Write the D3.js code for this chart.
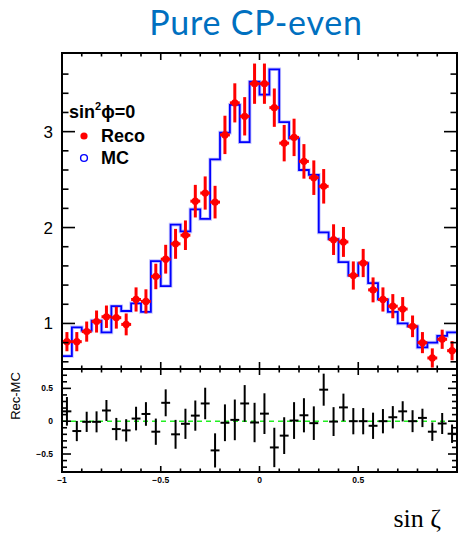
<!DOCTYPE html>
<html>
<head>
<meta charset="utf-8">
<script src="https://cdn.jsdelivr.net/npm/d3@7"></script>
<style>
html,body{margin:0;padding:0;background:#fff;}
svg{display:block;}
</style>
</head>
<body>
<svg id="chart" width="458" height="533"></svg>
<script>
// ---- data ----
const xMin = -1, xMax = 1, nBins = 40;
const recoValues = [0.81,0.81,0.915,1.02,1.07,1.06,0.99,1.25,1.23,1.49,
  1.67,1.83,1.92,2.275,2.36,2.265,2.966,3.30,3.16,3.50,
  3.50,3.25,2.88,2.94,2.69,2.52,2.43,1.874,1.85,1.50,
  1.63,1.35,1.25,1.18,1.15,0.97,0.80,0.64,0.835,0.716];
const recoErrors = [0.10,0.10,0.105,0.115,0.117,0.114,0.114,0.126,0.126,0.133,
  0.15,0.156,0.154,0.17,0.173,0.17,0.20,0.204,0.20,0.21,
  0.21,0.20,0.19,0.195,0.18,0.18,0.18,0.16,0.156,0.147,
  0.147,0.13,0.126,0.126,0.125,0.113,0.11,0.10,0.10,0.10];
const mcValues = [0.66,0.96,0.925,1.03,0.907,1.18,1.13,1.21,1.12,1.65,
  1.39,2.03,1.96,2.19,2.09,2.71,2.99,3.28,2.89,3.52,
  3.385,3.65,3.10,2.93,2.60,2.55,1.95,1.88,1.64,1.50,
  1.63,1.42,1.25,1.12,1.00,0.97,0.75,0.80,0.87,0.907];
const residErrors = [0.218,0.154,0.154,0.16,0.16,0.17,0.17,0.18,0.18,0.2,
  0.205,0.22,0.23,0.23,0.24,0.26,0.28,0.31,0.28,0.30,
  0.31,0.30,0.28,0.28,0.26,0.256,0.244,0.22,0.21,0.2,
  0.2,0.2,0.185,0.17,0.154,0.167,0.14,0.14,0.16,0.14];
const mainYTicks = [1,2,3];
const residYTickLabels = [0.5,0,-0.5];
const xTickLabels = [-1,-0.5,0,0.5];
const title = "Pure CP-even";
const legendTitle = "sin";
const legendItems = ["Reco","MC"];
const xTitle = "sin \u03B6";
const residTitle = "Rec-MC";

// ---- layout ----
const svg = d3.select("#chart");
const L = 62, R = 457, mainTop = 53, mainBot = 369, resTop = 369, resBot = 472;
const binW = (xMax - xMin) / nBins;
const bins = d3.range(nBins).map(i => {
  const lo = xMin + i * binW;
  return {i, lo, hi: lo + binW, c: lo + binW / 2,
    reco: recoValues[i], err: recoErrors[i], mc: mcValues[i],
    res: recoValues[i] - mcValues[i], rerr: residErrors[i]};
});

const x = d3.scaleLinear().domain([xMin, xMax]).range([L, R]);
const y = d3.scaleLinear().domain([0.525, 3.82]).range([mainBot, mainTop]);
const yr = d3.scaleLinear().domain([-0.774, 0.795]).range([resBot, resTop]);

// title
svg.append("text").attr("x", 256).attr("y", 35).attr("text-anchor", "middle")
  .attr("font-family", "Lato, sans-serif").attr("font-size", 34)
  .attr("letter-spacing", 0.8)
  .attr("fill", "#0070c0").text(title);

// ---- main panel ----
const stepPts = [];
bins.forEach(b => { stepPts.push([x(b.lo), y(b.mc)]); stepPts.push([x(b.hi), y(b.mc)]); });
const line = d3.line();
svg.append("clipPath").attr("id", "cm").append("rect")
  .attr("x", L).attr("y", mainTop).attr("width", R - L).attr("height", mainBot - mainTop);
const gMain = svg.append("g").attr("clip-path", "url(#cm)");
gMain.append("path").attr("d", line(stepPts)).attr("fill", "none")
  .attr("stroke", "#a8a8ff").attr("stroke-width", 3.6).attr("stroke-opacity", 0.7);
gMain.append("path").attr("d", line(stepPts)).attr("fill", "none")
  .attr("stroke", "#0000ff").attr("stroke-width", 1.8);

// Reco points
const gReco = gMain.append("g").attr("stroke", "#ff0000").attr("stroke-width", 3);
gReco.selectAll("line.v").data(bins).join("line")
  .attr("x1", d => x(d.c)).attr("x2", d => x(d.c))
  .attr("y1", d => y(d.reco - d.err)).attr("y2", d => y(d.reco + d.err));
gReco.selectAll("line.h").data(bins).join("line")
  .attr("x1", d => x(d.lo)).attr("x2", d => x(d.hi))
  .attr("y1", d => y(d.reco)).attr("y2", d => y(d.reco));
gMain.selectAll("circle.reco").data(bins).join("circle")
  .attr("cx", d => x(d.c)).attr("cy", d => y(d.reco)).attr("r", 3.6).attr("fill", "#ff0000");

// frame main
svg.append("rect").attr("x", L).attr("y", mainTop).attr("width", R - L).attr("height", mainBot - mainTop)
  .attr("fill", "none").attr("stroke", "#000").attr("stroke-width", 2);

function xTicks(yTopLine, yBotLine, majLen, minLen) {
  const g = svg.append("g").attr("stroke", "#000").attr("stroke-width", 1.6);
  const ticks = d3.range(-10, 11).map(k => k / 10);
  ticks.forEach(t => {
    const major = Math.abs(Math.round(t * 2) - t * 2) < 1e-6;
    const len = major ? majLen : minLen;
    g.append("line").attr("x1", x(t)).attr("x2", x(t)).attr("y1", yTopLine).attr("y2", yTopLine + len);
    g.append("line").attr("x1", x(t)).attr("x2", x(t)).attr("y1", yBotLine).attr("y2", yBotLine - len);
  });
}
xTicks(mainTop, mainBot, 7, 3.5);

// main y ticks
(function(){
  const g = svg.append("g").attr("stroke", "#000").attr("stroke-width", 1.6);
  const ticks = d3.range(3, 19).map(k => k / 5);
  ticks.forEach(t => {
    const major = Math.abs(t - Math.round(t)) < 1e-6;
    const len = major ? 13 : 6.5;
    g.append("line").attr("x1", L).attr("x2", L + len).attr("y1", y(t)).attr("y2", y(t));
    g.append("line").attr("x1", R).attr("x2", R - len).attr("y1", y(t)).attr("y2", y(t));
  });
})();
svg.selectAll("text.ym").data(mainYTicks).join("text")
  .attr("x", 53).attr("y", d => y(d) + 6).attr("text-anchor", "end")
  .attr("font-family", "Liberation Sans, Arial, sans-serif").attr("font-size", 17)
  .text(d => d);

// legend
const lg = svg.append("g").attr("font-family", "Liberation Sans, Arial, sans-serif")
  .attr("font-weight", "bold");
const lt = lg.append("text").attr("x", 69).attr("y", 118).attr("font-size", 18);
lt.append("tspan").text(legendTitle);
lt.append("tspan").attr("font-size", 11).attr("dy", -8).text("2");
lt.append("tspan").attr("dy", 8).text("\u03D5=0");
lg.append("circle").attr("cx", 84).attr("cy", 136).attr("r", 3.6).attr("fill", "#ff0000");
lg.append("text").attr("x", 101).attr("y", 141.5).attr("font-size", 18).text(legendItems[0]);
lg.append("circle").attr("cx", 84).attr("cy", 158).attr("r", 3.4).attr("fill", "none")
  .attr("stroke", "#0000ff").attr("stroke-width", 1.4);
lg.append("text").attr("x", 101).attr("y", 163.5).attr("font-size", 18).text(legendItems[1]);

// ---- residual panel ----
svg.append("line").attr("x1", L).attr("x2", R).attr("y1", yr(0)).attr("y2", yr(0))
  .attr("stroke", "#22ee22").attr("stroke-width", 1.4).attr("stroke-dasharray", "5,4");
const gRes = svg.append("g").attr("stroke", "#000").attr("stroke-width", 2);
gRes.selectAll("line.v").data(bins).join("line")
  .attr("x1", d => x(d.c)).attr("x2", d => x(d.c))
  .attr("y1", d => yr(d.res - d.rerr)).attr("y2", d => yr(d.res + d.rerr));
gRes.selectAll("line.h").data(bins).join("line")
  .attr("x1", d => x(d.lo) + 0.5).attr("x2", d => x(d.hi) - 0.5)
  .attr("y1", d => yr(d.res)).attr("y2", d => yr(d.res));

svg.append("rect").attr("x", L).attr("y", resTop).attr("width", R - L).attr("height", resBot - resTop)
  .attr("fill", "none").attr("stroke", "#000").attr("stroke-width", 2);
xTicks(resTop, resBot, 6, 3.5);
(function(){
  const g = svg.append("g").attr("stroke", "#000").attr("stroke-width", 1.6);
  const ticks = d3.range(-7, 8).map(k => k / 10);
  ticks.forEach(t => {
    const major = Math.abs(Math.round(t * 2) - t * 2) < 1e-6;
    const len = major ? 9 : 5;
    g.append("line").attr("x1", L).attr("x2", L + len).attr("y1", yr(t)).attr("y2", yr(t));
    g.append("line").attr("x1", R).attr("x2", R - len).attr("y1", yr(t)).attr("y2", yr(t));
  });
})();
svg.selectAll("text.yr").data(residYTickLabels).join("text")
  .attr("x", 53).attr("y", d => yr(d) + 3).attr("text-anchor", "end")
  .attr("font-family", "Liberation Sans, Arial, sans-serif").attr("font-size", 8.5)
  .attr("font-weight", "bold")
  .text(d => d === 0 ? "0" : String(d).replace("-", "\u2212"));
svg.selectAll("text.xl").data(xTickLabels).join("text")
  .attr("x", d => x(d)).attr("y", 483).attr("text-anchor", "middle")
  .attr("font-family", "Liberation Sans, Arial, sans-serif").attr("font-size", 8.5)
  .attr("font-weight", "bold")
  .text(d => d === 0 ? "0" : String(d).replace("-", "\u2212"));

svg.append("text").attr("transform", "translate(20,396) rotate(-90)")
  .attr("text-anchor", "middle").attr("font-family", "Liberation Sans, Arial, sans-serif")
  .attr("font-size", 13).text(residTitle);

svg.append("text").attr("x", 441).attr("y", 527).attr("text-anchor", "end")
  .attr("font-family", "Liberation Serif, Times New Roman, serif").attr("font-size", 26)
  .text(xTitle);
</script>
</body>
</html>
